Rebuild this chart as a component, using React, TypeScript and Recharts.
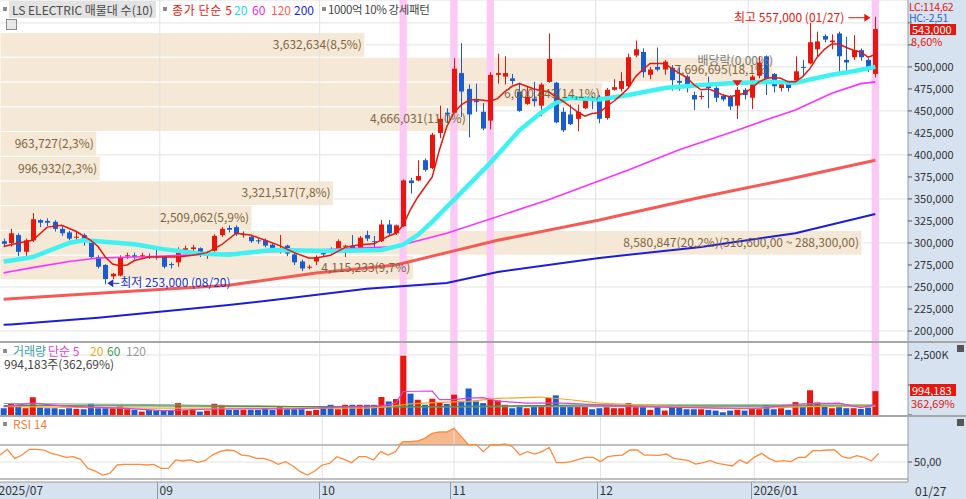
import React from 'react'
import {
  ComposedChart, Bar, Line, Area, XAxis, YAxis, CartesianGrid,
  ReferenceArea, ReferenceLine, ReferenceDot, Cell,
} from 'recharts'

const CHART_W = 966
const AXIS_W = 58
const SLOTS = 125 // 121 trading days + empty room on the right
const PLOT_W = CHART_W - AXIS_W
const BAND = PLOT_W / SLOTS

const FONT = "'Noto Sans CJK KR', 'Noto Sans', sans-serif"
const RED = '#e8160c'
const BLUE = '#1a5ccf'
const PINK = '#fcc9f7'
const GRID = '#e2e2e2'
const AXIS_BG = '#d7e2f0'
const BAND_FILL = '#f5e8d6'
const VP_TEXT = '#7d653e'

// daily candles 2025-07-30 .. 2026-01-27, thousands of won
const opens = [
  302, 300, 309, 290, 303, 326, 325, 324, 316, 312, 306, 309, 303, 284, 275, 262, 263, 285, 286, 285,
  285, 285, 284, 276, 278, 291, 293, 294, 287, 291, 309, 317, 318, 309, 307, 303, 303, 298, 291, 297,
  287, 279, 272, 279, 290, 293, 290, 296, 297, 294, 309, 302, 302, 321, 311, 319, 371, 371, 394, 385,
  425, 448, 448, 493, 475, 462, 449, 439, 491, 489, 487, 472, 458, 464, 456, 483, 482, 449, 446, 441,
  453, 464, 466, 442, 474, 475, 478, 513, 517, 491, 500, 497, 499, 484, 489, 468, 466, 481, 476, 467,
  466, 456, 474, 465, 490, 512, 492, 476, 482, 483, 500, 504, 520, 535, 528, 538, 508, 511, 519, 508,
  492,
]
const highs = [
  305, 316, 311, 305, 334, 327, 328, 326, 319, 314, 313, 311, 304, 286, 276, 266, 286, 289, 289, 289,
  288, 293, 285, 278, 295, 297, 298, 295, 291, 310, 318, 320, 320, 313, 308, 305, 305, 299, 309, 298,
  290, 281, 275, 286, 292, 295, 304, 298, 309, 308, 314, 308, 326, 326, 321, 372, 374, 394, 396, 425,
  456, 453, 510, 527, 480, 481, 459, 494, 515, 512, 492, 482, 478, 483, 482, 538, 483, 454, 457, 457,
  467, 467, 468, 476, 486, 494, 515, 530, 521, 500, 522, 508, 502, 499, 491, 472, 472, 489, 478, 469,
  468, 477, 476, 491, 512, 513, 493, 485, 484, 512, 508, 550, 540, 537, 537, 540, 534, 536, 521, 510,
  557,
]
const lows = [
  295, 296, 285, 284, 301, 318, 319, 313, 308, 303, 301, 297, 282, 271, 253, 259, 262, 282, 281, 282,
  282, 281, 271, 271, 273, 288, 288, 284, 282, 290, 307, 312, 308, 306, 300, 299, 295, 291, 288, 285,
  275, 268, 270, 275, 284, 288, 289, 284, 291, 293, 302, 292, 301, 309, 309, 318, 356, 370, 381, 384,
  419, 437, 447, 443, 420, 449, 428, 429, 481, 480, 480, 449, 457, 455, 444, 482, 436, 426, 434, 427,
  452, 452, 436, 440, 473, 472, 476, 511, 488, 486, 495, 491, 473, 473, 471, 451, 463, 453, 460, 461,
  451, 441, 463, 452, 487, 468, 471, 472, 472, 482, 491, 503, 512, 528, 520, 493, 495, 508, 507, 494,
  488,
]
const closes = [
  299, 311, 290, 303, 327, 323, 323, 316, 311, 305, 307, 304, 284, 273, 259, 265, 284, 286, 284, 286,
  284, 284, 273, 275, 292, 294, 295, 286, 289, 308, 316, 315, 310, 310, 302, 302, 297, 293, 293, 288,
  278, 271, 273, 284, 287, 291, 302, 297, 292, 306, 305, 301, 321, 311, 320, 371, 368, 376, 383, 423,
  441, 446, 498, 472, 446, 460, 430, 491, 493, 493, 484, 450, 466, 461, 480, 509, 437, 428, 435, 449,
  464, 462, 441, 474, 477, 484, 511, 520, 494, 497, 497, 506, 485, 482, 476, 463, 467, 476, 465, 463,
  455, 474, 468, 489, 505, 487, 478, 482, 476, 495, 499, 528, 529, 531, 530, 512, 505, 519, 511, 498,
  543,
]
// thousands of shares
const volumes = [
  283, 495, 424, 283, 735, 311, 283, 283, 240, 283, 254, 240, 466, 283, 283, 283, 353, 240, 212, 141,
  212, 184, 184, 184, 495, 212, 240, 141, 184, 466, 424, 212, 212, 212, 212, 212, 283, 212, 353, 240,
  240, 240, 170, 212, 353, 424, 240, 424, 424, 424, 424, 424, 749, 565, 664, 2480, 890, 636, 424, 678,
  537, 466, 848, 593, 1102, 565, 495, 636, 608, 424, 283, 382, 283, 353, 353, 707, 820, 382, 353, 353,
  353, 240, 283, 325, 283, 283, 495, 325, 325, 212, 325, 184, 353, 353, 240, 240, 240, 212, 184, 113,
  184, 212, 184, 283, 240, 410, 240, 283, 212, 537, 353, 1031, 523, 353, 283, 325, 283, 283, 254, 311,
  994,
]
const rsi14 = [
  58.2, 64.9, 54.3, 58.2, 64.9, 64.9, 64.1, 60.2, 58.2, 55.5, 56.3, 53.1, 42.5, 39.4, 34.7, 36.7, 46.5, 47.3, 47.3, 47.3,
  46.5, 47.3, 42.5, 42.5, 52.4, 51.2, 52.4, 49.6, 51.6, 58.2, 62.2, 64.1, 63.3, 58.2, 57.1, 54.3, 54.3, 51.6, 47.3, 50.4,
  45.3, 38.6, 34.7, 39.4, 46.5, 48.4, 56.3, 53.1, 49.2, 56.3, 56.3, 52.4, 62.2, 58.2, 62.2, 73.9, 73.9, 74.7, 77.8, 83.7,
  85.3, 85.3, 89.6, 79.8, 70.0, 70.8, 62.2, 70.0, 70.0, 71.2, 68.0, 58.2, 62.2, 59.4, 62.2, 67.3, 49.2, 49.2, 50.4, 53.1,
  55.5, 55.5, 50.4, 56.3, 57.5, 58.2, 64.1, 64.1, 58.2, 58.2, 57.8, 59.4, 54.3, 53.1, 51.6, 47.6, 49.2, 51.6, 48.4, 46.9,
  45.3, 52.4, 48.4, 55.5, 60.2, 54.3, 50.4, 51.6, 50.4, 55.5, 55.5, 63.3, 63.3, 64.1, 64.1, 56.3, 54.3, 57.5, 55.5, 51.2,
  60.2,
]

// moving averages: [day index, value]
const ma5Points = [
  [0, 296], [1, 298], [2, 300], [4, 303], [6, 318], [8, 320], [10, 313], [12, 303], [13, 296], [14, 284], [15, 276],
  [16, 274], [17, 275], [18, 280], [20, 284], [22, 284], [24, 284], [26, 286], [28, 289], [30, 298], [32, 311],
  [34, 309], [36, 303], [38, 297], [40, 289], [42, 283], [43, 283], [45, 286], [47, 295], [49, 298], [51, 299],
  [53, 308], [54, 311], [55, 320], [56, 338], [57, 352], [59, 375], [60, 406], [61, 432], [62, 448], [63, 457],
  [64, 462], [65, 463], [66, 462], [67, 461], [68, 464], [69, 472], [70, 478], [71, 481], [72, 478], [73, 475],
  [74, 473], [75, 472], [76, 466], [77, 461], [78, 455], [79, 449], [80, 444], [81, 447], [82, 448], [83, 455],
  [84, 461], [85, 468], [86, 476], [87, 489], [88, 497], [89, 504], [90, 504], [91, 504], [92, 498], [93, 493],
  [94, 488], [95, 480], [96, 474], [97, 475], [98, 472], [99, 468], [100, 466], [101, 468], [102, 470], [103, 476],
  [104, 483], [105, 487], [106, 488], [107, 487], [108, 483], [109, 483], [110, 489], [111, 498], [112, 511], [113, 520],
  [114, 526], [115, 526], [116, 522], [117, 519], [118, 517], [119, 511], [120, 514],
]
const ma20Points = [
  [0, 279], [1, 280], [4, 284], [9, 300], [11, 303], [13, 302], [18, 298.5], [22, 293], [27, 288], [31, 286.5], [37, 292],
  [45, 291], [52, 292], [55, 298], [57, 309], [59, 324], [61, 341], [62, 349], [67, 391], [71, 428], [74, 448],
  [76, 459], [78, 465], [82, 463], [86, 468], [91, 476], [96, 479.5], [100, 481.5], [105, 483], [109, 482], [114, 491],
  [117, 495], [120, 500],
]
const ma60Points = [
  [0, 266], [1, 267.5], [4, 272], [9, 279], [13, 283], [18, 284], [22, 285], [30, 288], [43, 292], [54, 296], [61, 311],
  [75, 349], [86, 383], [93, 406], [101, 428], [105, 440], [109, 451], [114, 470], [118, 481], [120, 483],
]
const ma120Points = [
  [0, 236], [1, 236.5], [13, 243], [31, 252], [43, 266], [54, 275], [61, 289], [68, 303], [82, 326], [96, 352], [109, 374],
  [120, 394],
]
const ma200Points = [
  [0, 207], [1, 207.5], [13, 215], [31, 229.5], [38, 236], [50, 248], [61, 254.5], [68, 267], [82, 283], [96, 295.5], [109, 311],
  [120, 333],
]
const volMa5Points = [
  [0, 353], [1, 380], [4, 495], [8, 381], [12, 325], [16, 283], [22, 184], [28, 240], [34, 254], [40, 254], [46, 325],
  [52, 381], [54, 495], [55, 980], [59, 1000], [60, 640], [62, 640], [64, 700], [66, 720], [68, 580], [72, 495],
  [77, 495], [82, 424], [87, 353], [98, 283], [104, 283], [110, 466], [115, 495], [118, 311], [120, 424],
]
const volMa20Points = [
  [0, 353], [1, 350], [20, 283], [50, 283], [53, 353], [56, 466], [60, 523], [64, 565], [68, 692], [74, 749], [78, 636],
  [82, 495], [93, 353], [102, 254], [111, 353], [120, 381],
]
const volMa60Points = [[0, 396], [1, 395], [20, 381], [40, 353], [60, 353], [80, 410], [100, 410], [120, 410]]
const volMa120Points = [[0, 480], [1, 478], [20, 438], [40, 353], [60, 339], [80, 353], [120, 367]]

// 매물대: ten price bands as drawn (thousands of won) and the volume traded in each
const vpEdges = [258, 286.2, 314.3, 342.4, 370.5, 398.6, 426.7, 454.8, 482.9, 511, 539]
const vpVolume = [4115233, 8580847, 2509062, 3321517, 996932, 963727, 4666031, 6000443, 7696695, 3632634]
const vpShare = ['9,7%', '20,2%', '5,9%', '7,8%', '2,3%', '2,3%', '11,0%', '14,1%', '18,1%', '8,5%']
const vpTopRange = '(316,600,00 ~ 288,300,00)'

const strongDays = [55, 62, 67, 120] // 1000억 10% 강세패턴
const monthStarts = [
  { idx: 0, label: '2025/07' },
  { idx: 22, label: '09' },
  { idx: 44, label: '10' },
  { idx: 62, label: '11' },
  { idx: 82, label: '12' },
  { idx: 103, label: '2026/01' },
]
const priceTicks = [200, 225, 250, 275, 300, 325, 350, 375, 400, 425, 450, 475, 500, 525, 550]
const hiddenPriceTicks = [525, 550] // covered by the current-price box in the original

const toMap = (pts: number[][]) => new Map(pts.map(([i, v]) => [i, v]))
const m5 = toMap(ma5Points), m20 = toMap(ma20Points), m60 = toMap(ma60Points)
const m120 = toMap(ma120Points), m200 = toMap(ma200Points)
const v5 = toMap(volMa5Points), v20 = toMap(volMa20Points), v60 = toMap(volMa60Points), v120 = toMap(volMa120Points)

const rows = Array.from({ length: SLOTS }, (_, i) => {
  const has = i < closes.length
  return {
    idx: i,
    o: has ? opens[i] : null,
    h: has ? highs[i] : null,
    l: has ? lows[i] : null,
    c: has ? closes[i] : null,
    hl: has ? [lows[i], highs[i]] : null,
    up: has ? closes[i] >= opens[i] : false,
    ma5: m5.get(i) ?? null,
    ma20: m20.get(i) ?? null,
    ma60: m60.get(i) ?? null,
    ma120: m120.get(i) ?? null,
    ma200: m200.get(i) ?? null,
    vol: has ? volumes[i] : null,
    vma5: v5.get(i) ?? null,
    vma20: v20.get(i) ?? null,
    vma60: v60.get(i) ?? null,
    vma120: v120.get(i) ?? null,
    rsi: has ? rsi14[i] : null,
    rsiBand: has ? [70, Math.max(70, rsi14[i])] : null,
  }
})

const maxBand = vpVolume.indexOf(Math.max(...vpVolume))
// the biggest band reaches 862px of the 908px plot
const VP_FULL = (vpVolume[maxBand] * PLOT_W) / 862
const won = (v: number) => Math.round(v * 1000).toLocaleString('en-US')
const vpText = (k: number) =>
  `${vpVolume[k].toLocaleString('en-US')}(${vpShare[k]})` + (k === maxBand ? vpTopRange : '')

const Candle = (props: any) => {
  const { x, y, width, height, payload } = props
  if (!payload || payload.o == null) return null
  const { o, c, h, l } = payload
  const top = Math.min(y, y + height)
  const span = Math.abs(height)
  const py = (v: number) => (h > l ? top + ((h - v) / (h - l)) * span : top)
  const color = c >= o ? RED : BLUE
  const cx = Math.round(x + width / 2)
  const b1 = py(Math.max(o, c))
  const b2 = py(Math.min(o, c))
  return (
    <g>
      <line x1={cx + 0.5} x2={cx + 0.5} y1={top} y2={top + span} stroke={color} />
      <rect x={cx - 2} y={b1} width={5} height={Math.max(b2 - b1, 1)} fill={color} />
    </g>
  )
}

const DateTick = (props: any) => {
  const { x, y, payload } = props
  const left = Math.round(x - BAND / 2) + 0.5
  const m = monthStarts.find((s) => s.idx === payload.value)
  return (
    <g>
      <line x1={left} x2={left} y1={y} y2={y + 17} stroke="#8d99aa" />
      <text x={left + 2} y={y + 13} fontSize={12} fill="#333" fontFamily={FONT}>{m ? m.label : ''}</text>
    </g>
  )
}

const noMargin = { top: 0, right: 0, bottom: 0, left: 0 }
const axisTick = { fontSize: 11, fill: '#333', fontFamily: FONT }

const monthLines = () =>
  monthStarts.slice(1).map((m) => (
    <ReferenceLine key={'m' + m.idx} x={m.idx} position="start" stroke={GRID} />
  ))
const stripes = () =>
  strongDays.map((d) => (
    <ReferenceArea key={'s' + d} x1={d} x2={d} fill={PINK} fillOpacity={1} stroke="none" />
  ))

const abs = (left: number, top: number, extra: React.CSSProperties = {}): React.CSSProperties => ({
  position: 'absolute', left, top, whiteSpace: 'nowrap', ...extra,
})
const sq = (left: number, top: number) => (
  <div style={abs(left, top, { width: 4, height: 4, background: '#8c8c8c' })} />
)
const word = (left: number, top: number, color: string, text: string, extra: React.CSSProperties = {}) => (
  <div style={abs(left, top, { fontSize: 12, lineHeight: '15px', color, ...extra })}>{text}</div>
)

export default function App() {
  return (
    <div style={{ position: 'absolute', left: 0, top: 0, width: CHART_W, height: 499, background: '#fff', overflow: 'hidden', fontFamily: FONT }}>
      <div style={abs(PLOT_W, 0, { width: AXIS_W, height: 499, background: AXIS_BG })} />
      <div style={abs(0, 482, { width: PLOT_W, height: 17, background: AXIS_BG })} />

      {/* price panel */}
      <div style={abs(0, 0)}>
        <ComposedChart width={CHART_W} height={342} data={rows} margin={noMargin}>
          <CartesianGrid vertical={false} stroke={GRID} />
          <XAxis dataKey="idx" type="category" hide />
          <YAxis orientation="right" width={AXIS_W} domain={[187.5, 576]} ticks={priceTicks}
            tickFormatter={(v: number) => (hiddenPriceTicks.includes(v) ? '' : won(v))} tick={axisTick} tickSize={4} tickMargin={2}
            tickLine={{ stroke: '#555' }} axisLine={{ stroke: '#999' }} allowDataOverflow />
          {monthLines()}
          {vpVolume.map((vol, k) => (
            <ReferenceArea key={'vp' + k} x1={0} x2={SLOTS - 1} y1={vpEdges[k]} y2={vpEdges[k + 1]}
              shape={(p: any) => (
                <rect x={p.x} y={p.y} width={(p.width * vol) / VP_FULL} height={p.height}
                  fill={BAND_FILL} stroke="#fff" strokeWidth={1} />
              )} />
          ))}
          {stripes()}
          <Line dataKey="ma200" stroke="#1c1cdc" strokeWidth={2} strokeLinecap="butt" dot={false} activeDot={false} connectNulls isAnimationActive={false} />
          <Line dataKey="ma120" stroke="#f55a55" strokeWidth={3} strokeLinecap="butt" dot={false} activeDot={false} connectNulls isAnimationActive={false} />
          <Line dataKey="ma60" stroke="#ff30ff" strokeWidth={1.6} strokeLinecap="butt" dot={false} activeDot={false} connectNulls isAnimationActive={false} />
          <Line dataKey="ma20" stroke="#3ef2f2" strokeWidth={4.5} strokeLinecap="butt" dot={false} activeDot={false} connectNulls isAnimationActive={false} />
          <Bar dataKey="hl" shape={Candle} isAnimationActive={false} />
          <Line dataKey="ma5" stroke={RED} strokeWidth={1.5} strokeLinecap="butt" dot={false} activeDot={false} connectNulls isAnimationActive={false} />
          {vpVolume.map((vol, k) => (
            <ReferenceDot key={'vpl' + k} x={0} y={(vpEdges[k] + vpEdges[k + 1]) / 2} r={0} shape={(p: any) => (
              <text x={p.cx - BAND / 2 + (PLOT_W * vol) / VP_FULL - 3} y={p.cy + 4}
                fontSize={12} fill={VP_TEXT} fontFamily={FONT} textAnchor="end">{vpText(k)}</text>
            )} />
          ))}
          <ReferenceDot x={14} y={253} r={0} shape={(p: any) => (
            <g>
              <polygon points={`${p.cx + 2},${p.cy - 1} ${p.cx + 8},${p.cy - 5} ${p.cx + 8},${p.cy + 3}`} fill="#2030c8" />
              <line x1={p.cx + 8} x2={p.cx + 14} y1={p.cy - 1} y2={p.cy - 1} stroke="#2030c8" />
              <text x={p.cx + 15} y={p.cy + 3} fontSize={12} fill="#2030c8" fontFamily={FONT}>최저 253,000 (08/20)</text>
            </g>
          )} />
          <ReferenceDot x={120} y={557} r={0} shape={(p: any) => (
            <g>
              <text x={p.cx - 31} y={p.cy + 5} fontSize={12} fill={RED} fontFamily={FONT} textAnchor="end">최고 557,000 (01/27)</text>
              <line x1={p.cx - 27} x2={p.cx - 10} y1={p.cy + 1} y2={p.cy + 1} stroke={RED} />
              <polygon points={`${p.cx - 5},${p.cy + 1} ${p.cx - 11},${p.cy - 3} ${p.cx - 11},${p.cy + 5}`} fill={RED} />
            </g>
          )} />
          <ReferenceDot x={101} y={highs[101]} r={0} shape={(p: any) => (
            <g>
              <text x={p.cx - 2} y={p.cy - 22} fontSize={12} fill="#7a7a7a" fontFamily={FONT} textAnchor="middle">배당락(0,00%)</text>
              <polygon points={`${p.cx - 5},${p.cy - 7} ${p.cx + 5},${p.cy - 7} ${p.cx},${p.cy - 1}`} fill={RED} />
            </g>
          )} />
        </ComposedChart>
      </div>

      {/* volume panel */}
      <div style={abs(0, 342)}>
        <ComposedChart width={CHART_W} height={73} data={rows} margin={noMargin}>
          <XAxis dataKey="idx" type="category" hide />
          <YAxis orientation="right" width={AXIS_W} domain={[0, 3042]} ticks={[0, 1250, 2500]}
            tickFormatter={(v: number) => (v === 2500 ? '2,500K' : '')} tick={axisTick} tickSize={4} tickMargin={2}
            tickLine={{ stroke: '#555' }} axisLine={{ stroke: '#999' }} />
          <ReferenceLine y={2500} stroke={GRID} />
          {monthLines()}
          {stripes()}
          <Bar dataKey="vol" barCategoryGap={1} isAnimationActive={false}>
            {rows.map((r) => <Cell key={r.idx} fill={r.up ? RED : BLUE} />)}
          </Bar>
          <Line dataKey="vma120" stroke="#9a9a9a" strokeWidth={1.2} dot={false} activeDot={false} connectNulls isAnimationActive={false} />
          <Line dataKey="vma60" stroke="#3c9c4c" strokeWidth={1.2} dot={false} activeDot={false} connectNulls isAnimationActive={false} />
          <Line dataKey="vma20" stroke="#f2a81e" strokeWidth={1.2} dot={false} activeDot={false} connectNulls isAnimationActive={false} />
          <Line dataKey="vma5" stroke="#e040d8" strokeWidth={1.2} dot={false} activeDot={false} connectNulls isAnimationActive={false} />
        </ComposedChart>
      </div>

      {/* RSI panel + date axis */}
      <div style={abs(0, 416)}>
        <ComposedChart width={CHART_W} height={83} data={rows} margin={noMargin}>
          <XAxis dataKey="idx" type="category" ticks={monthStarts.map((m) => m.idx)} interval={0}
            tick={<DateTick />} tickLine={false} axisLine={{ stroke: '#999' }} height={17} tickSize={0} tickMargin={0} />
          <YAxis orientation="right" width={AXIS_W} domain={[26.5, 104.1]} ticks={[50]}
            tickFormatter={() => '50,00'} tick={axisTick} tickSize={4} tickMargin={2}
            tickLine={{ stroke: '#555' }} axisLine={{ stroke: '#999' }} allowDataOverflow />
          {monthLines()}
          {stripes()}
          <ReferenceLine y={70} stroke="#aaa" strokeWidth={1.5} />
          <ReferenceLine y={50} stroke={GRID} />
          <ReferenceLine y={30} stroke="#aaa" strokeWidth={1.5} />
          <Area dataKey="rsiBand" stroke="none" fill="#f6b98e" fillOpacity={1} activeDot={false} isAnimationActive={false} />
          <Line dataKey="rsi" stroke="#ff8a3c" strokeWidth={1.3} dot={false} activeDot={false} isAnimationActive={false} />
        </ComposedChart>
      </div>

      {/* panel separators */}
      <div style={abs(0, 341, { width: CHART_W, height: 2, background: '#a6a6a6' })} />
      <div style={abs(0, 415, { width: CHART_W, height: 2, background: '#a6a6a6' })} />

      {/* price legend */}
      {sq(3, 7)}
      <div style={abs(9, 1, { height: 17, padding: '0 3px', background: '#e3e3e3', fontSize: 12, lineHeight: '17px', color: '#4a4a4a' })}>LS ELECTRIC 매물대 수(10)</div>
      <div style={abs(6, 19, { width: 9, height: 9, border: '1px solid #8a8a8a', background: '#e8e8e8' })} />
      {sq(163, 7)}
      {word(172, 2, RED, '종가 단순 5', { letterSpacing: 0.6 })}
      {word(234, 2, '#22dede', '20')}
      {word(252, 2, '#ee22ee', '60')}
      {word(271, 2, '#ff5a5a', '120')}
      {word(294, 2, '#2424e8', '200')}
      {sq(322, 7)}
      {word(328, 2, '#444', '1000억 10% 강세패턴', { fontSize: 11.5, letterSpacing: -0.4 })}

      {/* volume legend */}
      {sq(3, 349)}
      {word(13, 344, '#3aa0a4', '거래량', { lineHeight: '13px' })}
      {word(48, 344, '#e040d8', '단순 5', { lineHeight: '13px' })}
      {word(90, 344, '#f2a81e', '20', { lineHeight: '13px' })}
      {word(107, 344, '#3c9c4c', '60', { lineHeight: '13px' })}
      {word(126, 344, '#9a9a9a', '120', { lineHeight: '13px' })}
      {word(4, 358, '#444', '994,183주(362,69%)', { lineHeight: '12px' })}

      {/* RSI legend */}
      {sq(3, 422)}
      {word(13, 417, '#f08030', 'RSI 14', { lineHeight: '14px' })}

      {/* right column overlays */}
      <div style={abs(909, 1, { fontSize: 10.5, lineHeight: '11px', color: RED, letterSpacing: -0.3 })}>LC:114,62</div>
      <div style={abs(909, 12, { fontSize: 10.5, lineHeight: '11px', color: '#2c64c8', letterSpacing: -0.3 })}>HC:-2,51</div>
      <div style={abs(910, 24, { width: 44, height: 11, background: RED, color: '#fff', fontSize: 11, lineHeight: '11px', paddingLeft: 2 })}>543,000</div>
      <div style={abs(911, 36, { fontSize: 11, lineHeight: '10px', color: RED })}>8,60%</div>
      <div style={abs(957, 345, { width: 7, height: 7, background: '#555' })} />
      <div style={abs(910, 384, { width: 44, height: 12, background: RED, color: '#fff', fontSize: 11, lineHeight: '12px', paddingLeft: 2 })}>994,183</div>
      <div style={abs(911, 398, { fontSize: 11, lineHeight: '10px', color: RED })}>362,69%</div>
      <div style={abs(957, 419, { width: 7, height: 7, background: '#555' })} />
      <div style={abs(915, 483, { fontSize: 12, lineHeight: '16px', color: '#333' })}>01/27</div>
    </div>
  )
}
